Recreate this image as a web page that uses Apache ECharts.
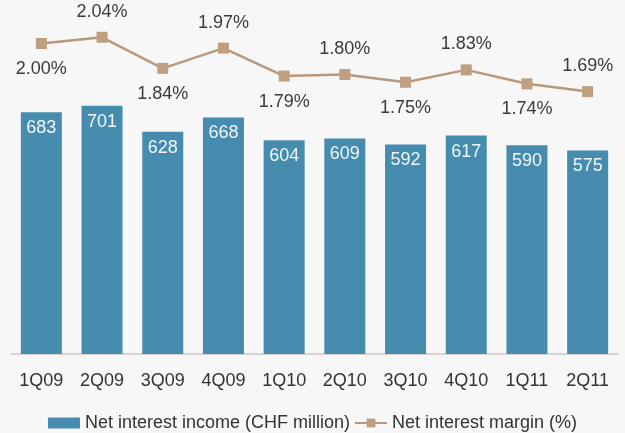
<!DOCTYPE html>
<html>
<head>
<meta charset="utf-8">
<script src="https://cdn.jsdelivr.net/npm/echarts@6/dist/echarts.min.js"></script>
<style>
html, body { margin: 0; padding: 0; background: #f7f7f7; }
#chart { width: 625px; height: 433px; }
</style>
</head>
<body>
<div id="chart"></div>
<script>
var categories = ['1Q09', '2Q09', '3Q09', '4Q09', '1Q10', '2Q10', '3Q10', '4Q10', '1Q11', '2Q11'];
var incomeValues = [683, 701, 628, 668, 604, 609, 592, 617, 590, 575];
var marginValues = [2.00, 2.04, 1.84, 1.97, 1.79, 1.80, 1.75, 1.83, 1.74, 1.69];
// label above or below each margin point
var marginLabelPos = ['bottom', 'top', 'bottom', 'top', 'bottom', 'top', 'bottom', 'top', 'bottom', 'top'];

var font = '"Liberation Sans", Arial, sans-serif';

var marginData = marginValues.map(function (v, i) {
    return {
        value: v,
        label: { position: marginLabelPos[i], distance: 11 }
    };
});

var chart = echarts.init(document.getElementById('chart'));
chart.setOption({
    backgroundColor: '#f7f7f7',
    animation: false,
    textStyle: { fontFamily: font },
    grid: { left: 11, right: 7, top: 0, bottom: 79 },
    legend: {
        top: 409,
        left: 'center',
        itemGap: 4,
        itemWidth: 32,
        itemHeight: 11,
        textStyle: { fontSize: 18, color: '#333', fontFamily: font },
        data: [
            { name: 'Net interest income (CHF million)', icon: 'rect' },
            { name: 'Net interest margin (%)' }
        ]
    },
    xAxis: {
        type: 'category',
        data: categories,
        axisTick: { show: false },
        axisLine: { lineStyle: { color: '#cfc8c2', width: 1.5 } },
        axisLabel: { fontSize: 18, color: '#333', margin: 18, fontFamily: font }
    },
    yAxis: [
        { type: 'value', min: 0, max: 1000, show: false, splitLine: { show: false } },
        { type: 'value', min: 0, max: 2.28, show: false, splitLine: { show: false } }
    ],
    series: [
        {
            name: 'Net interest income (CHF million)',
            type: 'bar',
            barWidth: 41,
            data: incomeValues,
            itemStyle: { color: '#458caf' },
            label: {
                show: true,
                position: 'insideTop',
                distance: 7,
                fontSize: 18,
                color: '#f2f6f8',
                fontFamily: font
            }
        },
        {
            name: 'Net interest margin (%)',
            type: 'line',
            yAxisIndex: 1,
            data: marginData,
            symbol: 'rect',
            symbolSize: 11,
            lineStyle: { color: '#b9997b', width: 2.5 },
            itemStyle: { color: '#bf9f80' },
            label: {
                show: true,
                fontSize: 18,
                color: '#3a3a3a',
                fontFamily: font,
                formatter: function (p) { return p.value.toFixed(2) + '%'; }
            }
        }
    ]
});
</script>
</body>
</html>
